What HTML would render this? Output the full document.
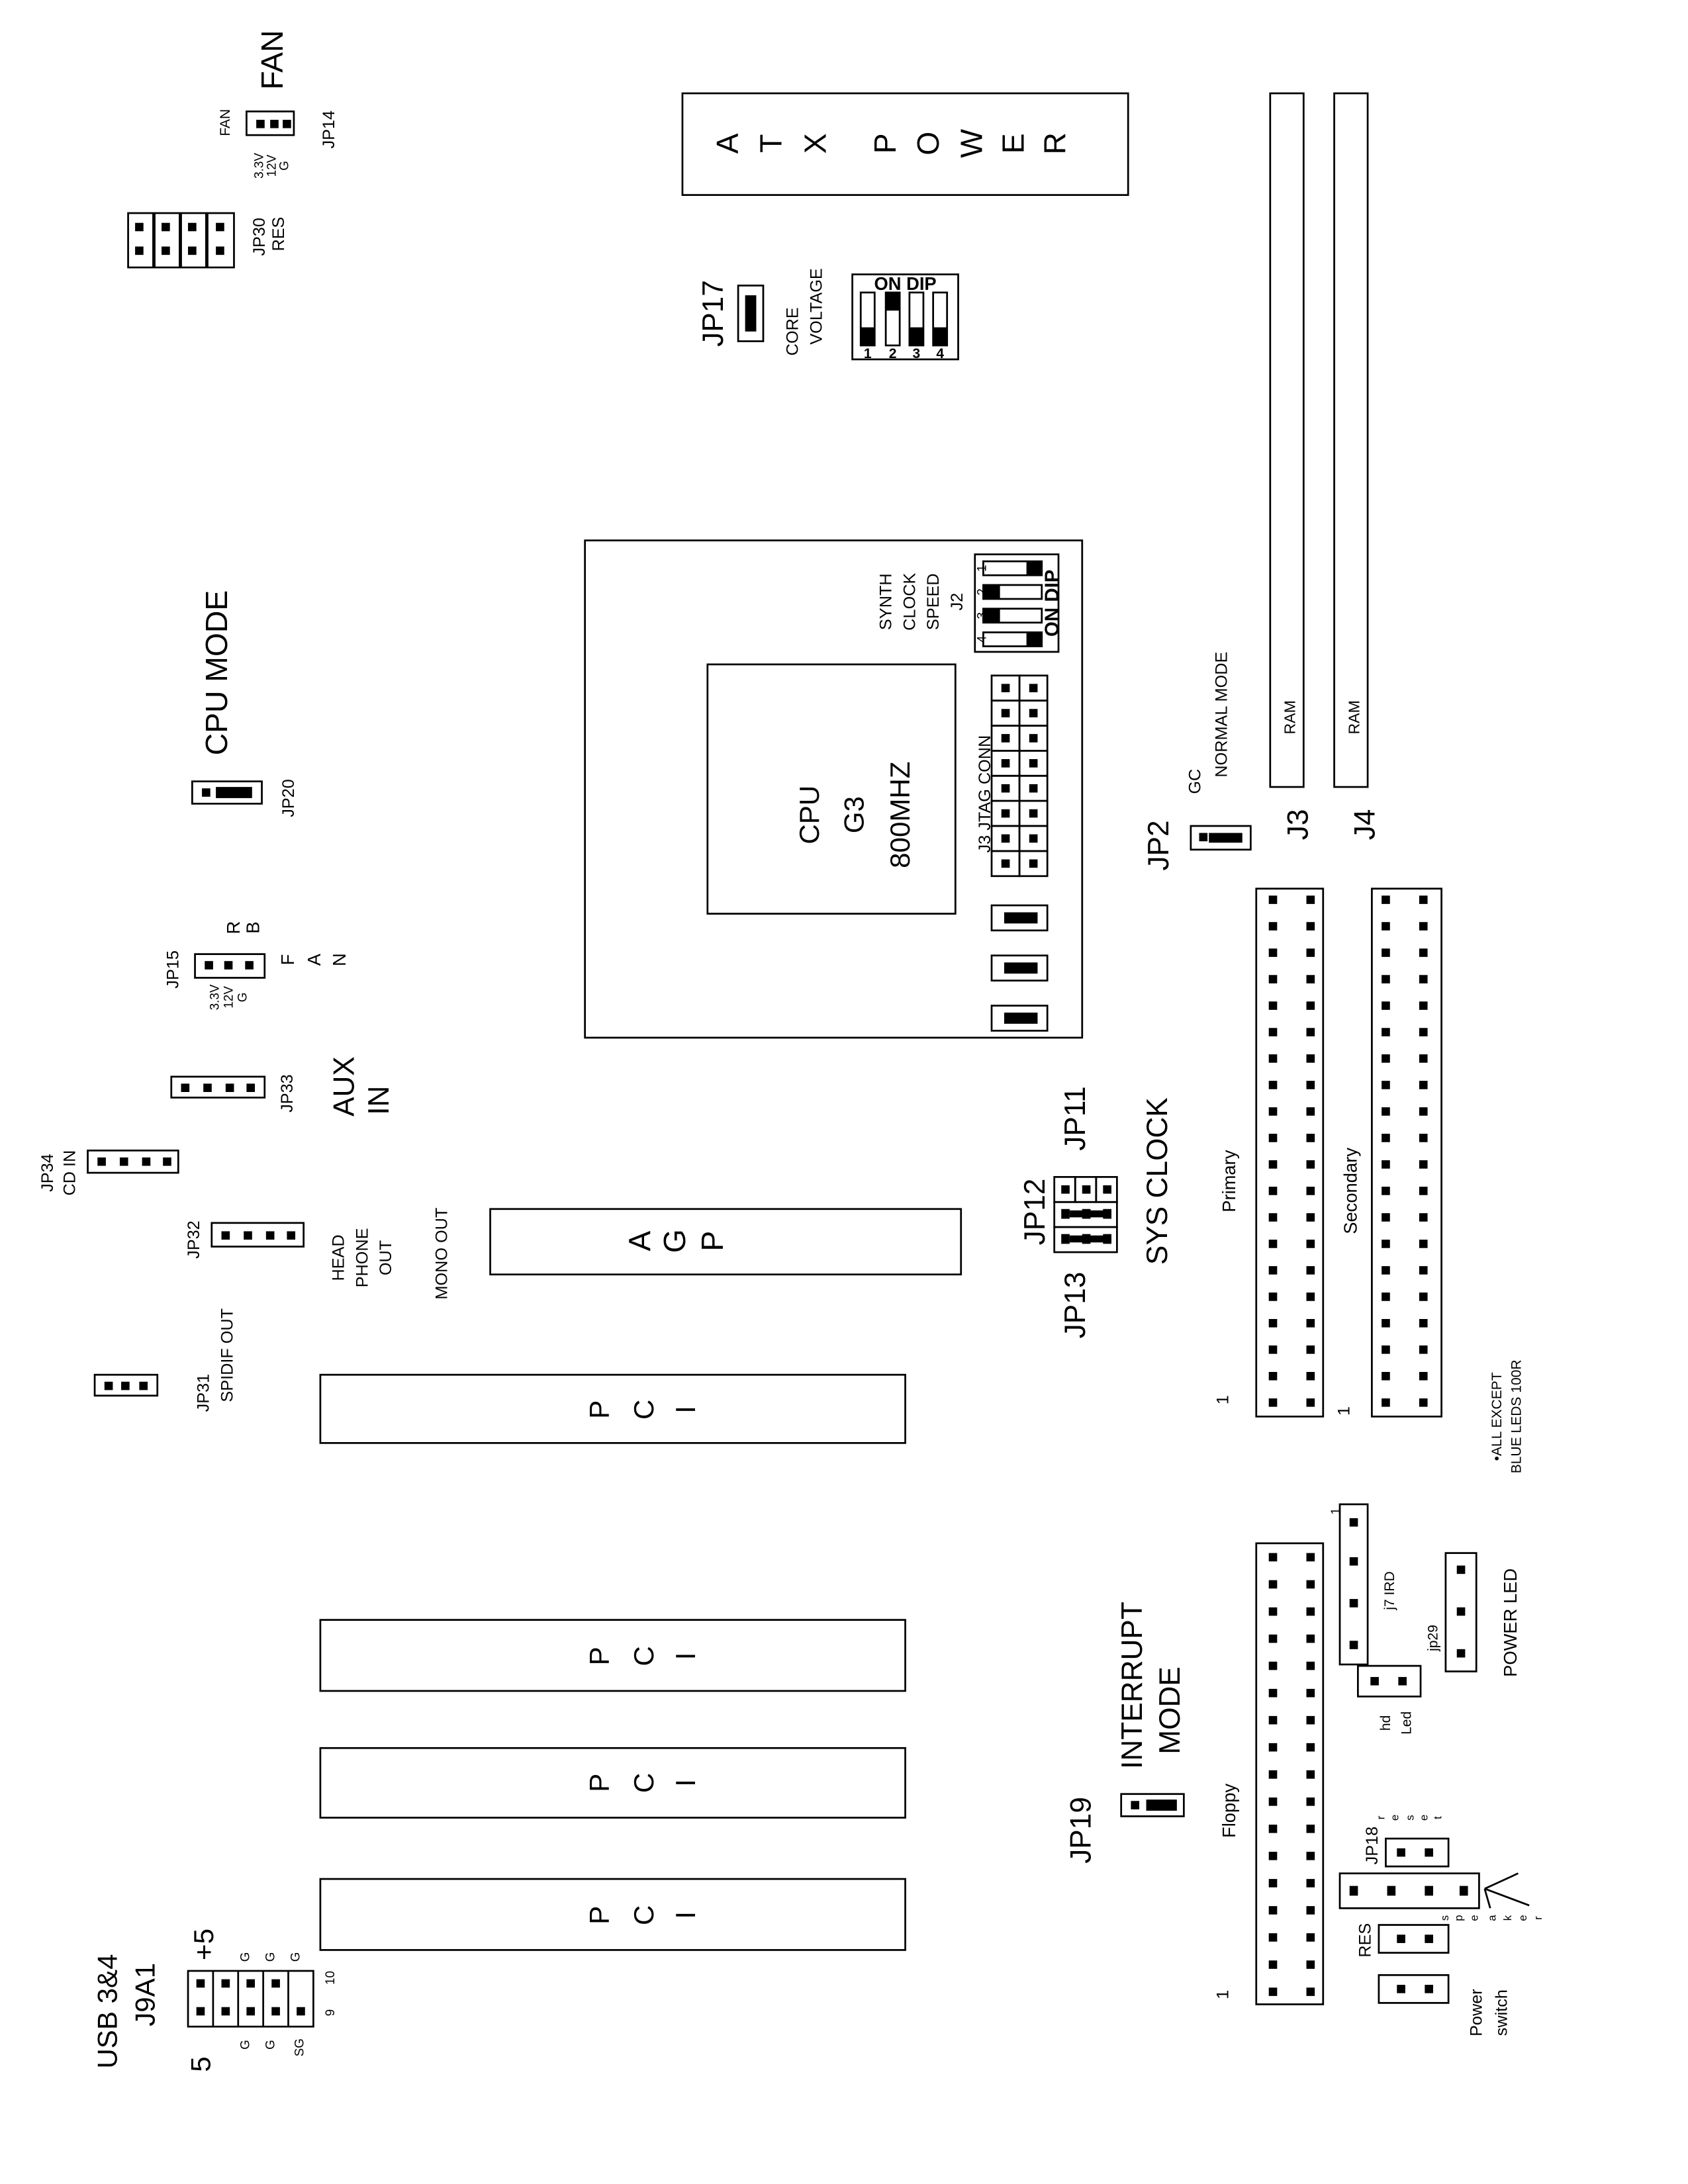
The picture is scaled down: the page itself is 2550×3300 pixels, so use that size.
<!DOCTYPE html>
<html><head><meta charset="utf-8"><style>html,body{margin:0;padding:0;background:#fff}svg{display:block}text{font-family:"Liberation Sans",Arial,sans-serif;fill:#000}</style></head>
<body>
<svg width="2550" height="3300" viewBox="0 0 1212 1568" preserveAspectRatio="none" xmlns="http://www.w3.org/2000/svg">
<g fill="none" stroke="#000" stroke-width="1.3">
<rect x="490" y="67" width="320" height="73"/>
<rect x="912" y="67" width="24" height="498"/>
<rect x="958" y="67" width="24" height="498"/>
<rect x="420" y="388" width="357" height="357"/>
<rect x="508" y="477" width="178" height="179"/>
<rect x="352" y="868" width="338" height="47"/>
<rect x="230" y="987" width="420" height="49"/>
<rect x="230" y="1163" width="420" height="51"/>
<rect x="230" y="1255" width="420" height="50"/>
<rect x="230" y="1349" width="420" height="51"/>
<rect x="902" y="638" width="48" height="379"/>
<rect x="985" y="638" width="50" height="379"/>
<rect x="902" y="1108" width="48" height="331"/>
<rect x="712" y="485" width="20" height="18"/><rect x="732" y="485" width="20" height="18"/>
<rect x="712" y="503" width="20" height="18"/><rect x="732" y="503" width="20" height="18"/>
<rect x="712" y="521" width="20" height="18"/><rect x="732" y="521" width="20" height="18"/>
<rect x="712" y="539" width="20" height="18"/><rect x="732" y="539" width="20" height="18"/>
<rect x="712" y="557" width="20" height="18"/><rect x="732" y="557" width="20" height="18"/>
<rect x="712" y="575" width="20" height="18"/><rect x="732" y="575" width="20" height="18"/>
<rect x="712" y="593" width="20" height="18"/><rect x="732" y="593" width="20" height="18"/>
<rect x="712" y="611" width="20" height="18"/><rect x="732" y="611" width="20" height="18"/>
<rect x="712" y="650" width="40" height="18"/><rect x="712" y="686" width="40" height="18"/><rect x="712" y="722" width="40" height="18"/>
<rect x="700" y="398" width="60" height="70"/>
<rect x="706" y="403" width="42" height="10"/><rect x="706" y="420" width="42" height="10"/><rect x="706" y="437" width="42" height="10"/><rect x="706" y="454" width="42" height="10"/>
<rect x="612" y="197" width="76" height="61"/>
<rect x="618" y="210" width="10" height="38"/><rect x="636" y="210" width="10" height="38"/><rect x="653" y="210" width="10" height="38"/><rect x="670" y="210" width="10" height="38"/>
<rect x="530" y="205" width="18" height="40"/>
<rect x="855" y="593" width="43" height="17"/>
<rect x="805" y="1288" width="45" height="16"/>
<rect x="757" y="845" width="15" height="18"/><rect x="772" y="845" width="15" height="18"/><rect x="787" y="845" width="15" height="18"/>
<rect x="757" y="863" width="45" height="18"/><rect x="757" y="881" width="45" height="18"/>
<rect x="177" y="80" width="34" height="17"/>
<rect x="92" y="153" width="18" height="39"/><rect x="111" y="153" width="18" height="39"/><rect x="130" y="153" width="18" height="39"/><rect x="149" y="153" width="19" height="39"/>
<rect x="138" y="561" width="50" height="16"/>
<rect x="140" y="685" width="50" height="17"/>
<rect x="123" y="773" width="67" height="15"/>
<rect x="63" y="826" width="65" height="16"/>
<rect x="152" y="878" width="66" height="17"/>
<rect x="68" y="987" width="45" height="15"/>
<rect x="135" y="1415" width="90" height="40"/>
<line x1="153" y1="1415" x2="153" y2="1455"/><line x1="171" y1="1415" x2="171" y2="1455"/><line x1="189" y1="1415" x2="189" y2="1455"/><line x1="207" y1="1415" x2="207" y2="1455"/>
<rect x="962" y="1080" width="20" height="115"/>
<rect x="1038" y="1115" width="22" height="85"/>
<rect x="975" y="1196" width="45" height="22"/>
<rect x="995" y="1320" width="45" height="20"/>
<rect x="962" y="1345" width="100" height="25"/>
<rect x="990" y="1382" width="50" height="20"/>
<rect x="990" y="1418" width="50" height="20"/>
<path d="M1066 1356 L1090 1345 M1066 1356 L1098 1368 M1066 1356 L1070 1370"/>
</g>
<g fill="#000">
<rect x="719" y="491" width="6" height="6"/><rect x="739" y="491" width="6" height="6"/>
<rect x="719" y="509" width="6" height="6"/><rect x="739" y="509" width="6" height="6"/>
<rect x="719" y="527" width="6" height="6"/><rect x="739" y="527" width="6" height="6"/>
<rect x="719" y="545" width="6" height="6"/><rect x="739" y="545" width="6" height="6"/>
<rect x="719" y="563" width="6" height="6"/><rect x="739" y="563" width="6" height="6"/>
<rect x="719" y="581" width="6" height="6"/><rect x="739" y="581" width="6" height="6"/>
<rect x="719" y="599" width="6" height="6"/><rect x="739" y="599" width="6" height="6"/>
<rect x="719" y="617" width="6" height="6"/><rect x="739" y="617" width="6" height="6"/>
<rect x="721" y="655" width="24" height="8"/><rect x="721" y="691" width="24" height="8"/><rect x="721" y="727" width="24" height="8"/>
<rect x="737" y="403" width="11" height="10"/><rect x="706" y="420" width="12" height="10"/><rect x="706" y="437" width="12" height="10"/><rect x="737" y="454" width="11" height="10"/>
<rect x="618" y="235" width="10" height="13"/><rect x="636" y="210" width="10" height="13"/><rect x="653" y="235" width="10" height="13"/><rect x="670" y="235" width="10" height="13"/>
<rect x="535" y="212" width="8" height="26"/>
<rect x="861" y="598" width="6" height="6"/><rect x="868" y="598" width="24" height="7"/>
<rect x="812" y="1293" width="6" height="6"/><rect x="823" y="1292" width="22" height="8"/>
<rect x="762" y="851" width="6" height="6"/><rect x="777" y="851" width="6" height="6"/><rect x="792" y="851" width="6" height="6"/>
<rect x="762" y="868" width="6" height="7"/><rect x="768" y="869" width="30" height="5"/><rect x="792" y="868" width="6" height="7"/><rect x="777" y="868" width="6" height="7"/>
<rect x="762" y="886" width="6" height="7"/><rect x="768" y="887" width="30" height="5"/><rect x="792" y="886" width="6" height="7"/><rect x="777" y="886" width="6" height="7"/>
<rect x="184" y="86" width="6" height="6"/><rect x="194" y="86" width="6" height="6"/><rect x="203" y="86" width="6" height="6"/>
<rect x="97" y="160" width="6" height="6"/><rect x="97" y="177" width="6" height="6"/><rect x="116" y="160" width="6" height="6"/><rect x="116" y="177" width="6" height="6"/>
<rect x="135" y="160" width="6" height="6"/><rect x="135" y="177" width="6" height="6"/><rect x="155" y="160" width="6" height="6"/><rect x="155" y="177" width="6" height="6"/>
<rect x="145" y="566" width="6" height="6"/><rect x="155" y="565" width="26" height="8"/>
<rect x="147" y="690" width="6" height="6"/><rect x="161" y="690" width="6" height="6"/><rect x="176" y="690" width="6" height="6"/>
<rect x="130" y="778" width="6" height="6"/><rect x="146" y="778" width="6" height="6"/><rect x="162" y="778" width="6" height="6"/><rect x="177" y="778" width="6" height="6"/>
<rect x="70" y="831" width="6" height="6"/><rect x="86" y="831" width="6" height="6"/><rect x="102" y="831" width="6" height="6"/><rect x="117" y="831" width="6" height="6"/>
<rect x="159" y="884" width="6" height="6"/><rect x="175" y="884" width="6" height="6"/><rect x="191" y="884" width="6" height="6"/><rect x="206" y="884" width="6" height="6"/>
<rect x="75" y="992" width="6" height="6"/><rect x="87" y="992" width="6" height="6"/><rect x="100" y="992" width="6" height="6"/>
<rect x="141" y="1421" width="6" height="6"/><rect x="141" y="1441" width="6" height="6"/><rect x="159" y="1421" width="6" height="6"/><rect x="159" y="1441" width="6" height="6"/>
<rect x="177" y="1421" width="6" height="6"/><rect x="177" y="1441" width="6" height="6"/><rect x="195" y="1421" width="6" height="6"/><rect x="195" y="1441" width="6" height="6"/>
<rect x="213" y="1441" width="6" height="6"/>
<rect x="969" y="1090" width="6" height="6"/><rect x="969" y="1118" width="6" height="6"/><rect x="969" y="1148" width="6" height="6"/><rect x="969" y="1178" width="6" height="6"/>
<rect x="1046" y="1124" width="6" height="6"/><rect x="1046" y="1154" width="6" height="6"/><rect x="1046" y="1184" width="6" height="6"/>
<rect x="984" y="1204" width="6" height="6"/><rect x="1004" y="1204" width="6" height="6"/>
<rect x="1003" y="1327" width="6" height="6"/><rect x="1023" y="1327" width="6" height="6"/>
<rect x="969" y="1354" width="6" height="7"/><rect x="996" y="1354" width="6" height="7"/><rect x="1023" y="1354" width="6" height="7"/><rect x="1048" y="1354" width="6" height="7"/>
<rect x="1003" y="1389" width="6" height="6"/><rect x="1023" y="1389" width="6" height="6"/>
<rect x="1003" y="1425" width="6" height="6"/><rect x="1023" y="1425" width="6" height="6"/>
</g>
<g fill="#000">
<path d="M911 643h6v6h-6zM938 643h6v6h-6zM911 662h6v6h-6zM938 662h6v6h-6zM911 681h6v6h-6zM938 681h6v6h-6zM911 700h6v6h-6zM938 700h6v6h-6zM911 719h6v6h-6zM938 719h6v6h-6zM911 738h6v6h-6zM938 738h6v6h-6zM911 757h6v6h-6zM938 757h6v6h-6zM911 776h6v6h-6zM938 776h6v6h-6zM911 795h6v6h-6zM938 795h6v6h-6zM911 814h6v6h-6zM938 814h6v6h-6zM911 833h6v6h-6zM938 833h6v6h-6zM911 852h6v6h-6zM938 852h6v6h-6zM911 871h6v6h-6zM938 871h6v6h-6zM911 890h6v6h-6zM938 890h6v6h-6zM911 909h6v6h-6zM938 909h6v6h-6zM911 928h6v6h-6zM938 928h6v6h-6zM911 947h6v6h-6zM938 947h6v6h-6zM911 966h6v6h-6zM938 966h6v6h-6zM911 985h6v6h-6zM938 985h6v6h-6zM911 1004h6v6h-6zM938 1004h6v6h-6z"/>
<path transform="translate(81,0)" d="M911 643h6v6h-6zM938 643h6v6h-6zM911 662h6v6h-6zM938 662h6v6h-6zM911 681h6v6h-6zM938 681h6v6h-6zM911 700h6v6h-6zM938 700h6v6h-6zM911 719h6v6h-6zM938 719h6v6h-6zM911 738h6v6h-6zM938 738h6v6h-6zM911 757h6v6h-6zM938 757h6v6h-6zM911 776h6v6h-6zM938 776h6v6h-6zM911 795h6v6h-6zM938 795h6v6h-6zM911 814h6v6h-6zM938 814h6v6h-6zM911 833h6v6h-6zM938 833h6v6h-6zM911 852h6v6h-6zM938 852h6v6h-6zM911 871h6v6h-6zM938 871h6v6h-6zM911 890h6v6h-6zM938 890h6v6h-6zM911 909h6v6h-6zM938 909h6v6h-6zM911 928h6v6h-6zM938 928h6v6h-6zM911 947h6v6h-6zM938 947h6v6h-6zM911 966h6v6h-6zM938 966h6v6h-6zM911 985h6v6h-6zM938 985h6v6h-6zM911 1004h6v6h-6zM938 1004h6v6h-6z"/>
<path d="M911 1115h6v6h-6zM938 1115h6v6h-6zM911 1134.5h6v6h-6zM938 1134.5h6v6h-6zM911 1154h6v6h-6zM938 1154h6v6h-6zM911 1173.5h6v6h-6zM938 1173.5h6v6h-6zM911 1193h6v6h-6zM938 1193h6v6h-6zM911 1212.5h6v6h-6zM938 1212.5h6v6h-6zM911 1232h6v6h-6zM938 1232h6v6h-6zM911 1251.5h6v6h-6zM938 1251.5h6v6h-6zM911 1271h6v6h-6zM938 1271h6v6h-6zM911 1290.5h6v6h-6zM938 1290.5h6v6h-6zM911 1310h6v6h-6zM938 1310h6v6h-6zM911 1329.5h6v6h-6zM938 1329.5h6v6h-6zM911 1349h6v6h-6zM938 1349h6v6h-6zM911 1368.5h6v6h-6zM938 1368.5h6v6h-6zM911 1388h6v6h-6zM938 1388h6v6h-6zM911 1407.5h6v6h-6zM938 1407.5h6v6h-6zM911 1427h6v6h-6zM938 1427h6v6h-6z"/>
</g>
<g text-anchor="middle">
<text font-size="22" transform="translate(203,43) rotate(-90)">FAN</text>
<text font-size="10" transform="translate(165,88) rotate(-90)">FAN</text>
<text font-size="12" transform="translate(240,93) rotate(-90)">JP14</text>
<text font-size="12" transform="translate(190,170) rotate(-90)">JP30</text>
<text font-size="12" transform="translate(204,168) rotate(-90)">RES</text>
<text font-size="21" transform="translate(519,225) rotate(-90)">JP17</text>
<text font-size="12" transform="translate(573,238) rotate(-90)">CORE</text>
<text font-size="12" transform="translate(590,220) rotate(-90)">VOLTAGE</text>
<text font-size="22" transform="translate(163,483) rotate(-90)">CPU MODE</text>
<text font-size="12" transform="translate(211,573) rotate(-90)">JP20</text>
<text font-size="20" transform="translate(588,585) rotate(-90)">CPU</text>
<text font-size="20" transform="translate(620,585) rotate(-90)">G3</text>
<text font-size="20" transform="translate(653,585) rotate(-90)">800MHZ</text>
<text font-size="12" transform="translate(711,570) rotate(-90)">J3  JTAG CONN</text>
<text font-size="12" transform="translate(640,432) rotate(-90)">SYNTH</text>
<text font-size="12" transform="translate(657,432) rotate(-90)">CLOCK</text>
<text font-size="12" transform="translate(674,432) rotate(-90)">SPEED</text>
<text font-size="12" transform="translate(691,432) rotate(-90)">J2</text>
<text font-size="14" font-weight="bold" transform="translate(760,433) rotate(-90)">ON DIP</text>
<text font-size="21" transform="translate(839,607) rotate(-90)">JP2</text>
<text font-size="12" transform="translate(862,561) rotate(-90)">GC</text>
<text font-size="12" transform="translate(881,513) rotate(-90)">NORMAL MODE</text>
<text font-size="21" transform="translate(939,592) rotate(-90)">J3</text>
<text font-size="21" transform="translate(987,592) rotate(-90)">J4</text>
<text font-size="11" transform="translate(930,515) rotate(-90)">RAM</text>
<text font-size="11" transform="translate(976,515) rotate(-90)">RAM</text>
<text font-size="12" transform="translate(128,696) rotate(-90)">JP15</text>
<text font-size="9" transform="translate(157,716) rotate(-90)">3.3V</text>
<text font-size="9" transform="translate(167,716) rotate(-90)">12V</text>
<text font-size="9" transform="translate(177,716) rotate(-90)">G</text>
<text font-size="9" transform="translate(189,119) rotate(-90)">3.3V</text>
<text font-size="9" transform="translate(198,119) rotate(-90)">12V</text>
<text font-size="9" transform="translate(207,119) rotate(-90)">G</text>
<text font-size="13" transform="translate(172,666) rotate(-90)">R</text>
<text font-size="13" transform="translate(186,666) rotate(-90)">B</text>
<text font-size="13" transform="translate(211,689) rotate(-90)">F</text>
<text font-size="13" transform="translate(230,689) rotate(-90)">A</text>
<text font-size="13" transform="translate(248,689) rotate(-90)">N</text>
<text font-size="12" transform="translate(210,785) rotate(-90)">JP33</text>
<text font-size="21" transform="translate(254,780) rotate(-90)">AUX</text>
<text font-size="21" transform="translate(279,790) rotate(-90)">IN</text>
<text font-size="12" transform="translate(38,842) rotate(-90)">JP34</text>
<text font-size="12" transform="translate(54,842) rotate(-90)">CD IN</text>
<text font-size="12" transform="translate(143,890) rotate(-90)">JP32</text>
<text font-size="12" transform="translate(247,903) rotate(-90)">HEAD</text>
<text font-size="12" transform="translate(264,903) rotate(-90)">PHONE</text>
<text font-size="12" transform="translate(281,903) rotate(-90)">OUT</text>
<text font-size="12" transform="translate(321,900) rotate(-90)">MONO OUT</text>
<text font-size="12" transform="translate(150,1000) rotate(-90)">JP31</text>
<text font-size="12" transform="translate(167,973) rotate(-90)">SPIDIF OUT</text>
<text font-size="21" transform="translate(750,870) rotate(-90)">JP12</text>
<text font-size="21" transform="translate(779,937) rotate(-90)">JP13</text>
<text font-size="21" transform="translate(779,803) rotate(-90)">JP11</text>
<text font-size="21" transform="translate(838,848) rotate(-90)">SYS CLOCK</text>
<text font-size="13" transform="translate(887,848) rotate(-90)">Primary</text>
<text font-size="13" transform="translate(974,855) rotate(-90)">Secondary</text>
<text font-size="12" transform="translate(882,1005) rotate(-90)">1</text>
<text font-size="12" transform="translate(969,1013) rotate(-90)">1</text>
<text font-size="12" transform="translate(882,1432) rotate(-90)">1</text>
<text font-size="10" transform="translate(1078,1017) rotate(-90)">•ALL EXCEPT</text>
<text font-size="10" transform="translate(1092,1017) rotate(-90)">BLUE LEDS 100R</text>
<text font-size="9" transform="translate(962,1085) rotate(-90)">1</text>
<text font-size="10" transform="translate(1001,1142) rotate(-90)">j7 IRD</text>
<text font-size="10" transform="translate(1032,1176) rotate(-90)">jp29</text>
<text font-size="13" transform="translate(1089,1165) rotate(-90)">POWER  LED</text>
<text font-size="10" transform="translate(998,1237) rotate(-90)">hd</text>
<text font-size="10" transform="translate(1013,1237) rotate(-90)">Led</text>
<text font-size="21" transform="translate(820,1210) rotate(-90)">INTERRUPT</text>
<text font-size="21" transform="translate(847,1228) rotate(-90)">MODE</text>
<text font-size="21" transform="translate(783,1314) rotate(-90)">JP19</text>
<text font-size="13" transform="translate(887,1300) rotate(-90)">Floppy</text>
<text font-size="12" transform="translate(989,1325) rotate(-90)">JP18</text>
<text font-size="8" transform="translate(994,1305) rotate(-90)">r</text>
<text font-size="8" transform="translate(1004,1305) rotate(-90)">e</text>
<text font-size="8" transform="translate(1015,1305) rotate(-90)">s</text>
<text font-size="8" transform="translate(1025,1305) rotate(-90)">e</text>
<text font-size="8" transform="translate(1035,1305) rotate(-90)">t</text>
<text font-size="8" transform="translate(1040,1377) rotate(-90)">s</text>
<text font-size="8" transform="translate(1050,1377) rotate(-90)">p</text>
<text font-size="8" transform="translate(1061,1377) rotate(-90)">e</text>
<text font-size="8" transform="translate(1074,1377) rotate(-90)">a</text>
<text font-size="8" transform="translate(1085,1377) rotate(-90)">k</text>
<text font-size="8" transform="translate(1096,1377) rotate(-90)">e</text>
<text font-size="8" transform="translate(1107,1377) rotate(-90)">r</text>
<text font-size="12" transform="translate(984,1393) rotate(-90)">RES</text>
<text font-size="12" transform="translate(1064,1445) rotate(-90)">Power</text>
<text font-size="12" transform="translate(1082,1445) rotate(-90)">switch</text>
<text font-size="20" transform="translate(84,1444) rotate(-90)">USB 3&amp;4</text>
<text font-size="20" transform="translate(111,1432) rotate(-90)">J9A1</text>
<text font-size="20" transform="translate(151,1482) rotate(-90)">5</text>
<text font-size="20" transform="translate(153,1396) rotate(-90)">+5</text>
<text font-size="9" transform="translate(179,1405) rotate(-90)">G</text>
<text font-size="9" transform="translate(197,1405) rotate(-90)">G</text>
<text font-size="9" transform="translate(215,1405) rotate(-90)">G</text>
<text font-size="9" transform="translate(179,1468) rotate(-90)">G</text>
<text font-size="9" transform="translate(197,1468) rotate(-90)">G</text>
<text font-size="9" transform="translate(218,1470) rotate(-90)">SG</text>
<text font-size="9" transform="translate(240,1445) rotate(-90)">9</text>
<text font-size="9" transform="translate(240,1420) rotate(-90)">10</text>
<text font-size="9" transform="translate(708,408) rotate(-90)">1</text>
<text font-size="9" transform="translate(708,425) rotate(-90)">2</text>
<text font-size="9" transform="translate(708,442) rotate(-90)">3</text>
<text font-size="9" transform="translate(708,459) rotate(-90)">4</text>
<text font-size="13" font-weight="bold" x="650" y="208">ON DIP</text>
<text font-size="10" font-weight="bold" x="623" y="257">1</text>
<text font-size="10" font-weight="bold" x="641" y="257">2</text>
<text font-size="10" font-weight="bold" x="658" y="257">3</text>
<text font-size="10" font-weight="bold" x="675" y="257">4</text>
</g>
<g text-anchor="middle" font-size="22">
<text transform="translate(530,103) rotate(-90)">A</text>
<text transform="translate(561,103) rotate(-90)">T</text>
<text transform="translate(593,103) rotate(-90)">X</text>
<text transform="translate(643,103) rotate(-90)">P</text>
<text transform="translate(674,103) rotate(-90)">O</text>
<text transform="translate(705,103) rotate(-90)">W</text>
<text transform="translate(735,103) rotate(-90)">E</text>
<text transform="translate(765,103) rotate(-90)">R</text>
<text transform="translate(467,891) rotate(-90)">A</text>
<text transform="translate(492,891) rotate(-90)">G</text>
<text transform="translate(519,891) rotate(-90)">P</text>
</g>
<g text-anchor="middle" font-size="20">
<text transform="translate(437,1012) rotate(-90)">P</text><text transform="translate(469,1012) rotate(-90)">C</text><text transform="translate(499,1012) rotate(-90)">I</text>
<text transform="translate(437,1189) rotate(-90)">P</text><text transform="translate(469,1189) rotate(-90)">C</text><text transform="translate(499,1189) rotate(-90)">I</text>
<text transform="translate(437,1280) rotate(-90)">P</text><text transform="translate(469,1280) rotate(-90)">C</text><text transform="translate(499,1280) rotate(-90)">I</text>
<text transform="translate(437,1375) rotate(-90)">P</text><text transform="translate(469,1375) rotate(-90)">C</text><text transform="translate(499,1375) rotate(-90)">I</text>
</g>
</svg>
</body></html>
